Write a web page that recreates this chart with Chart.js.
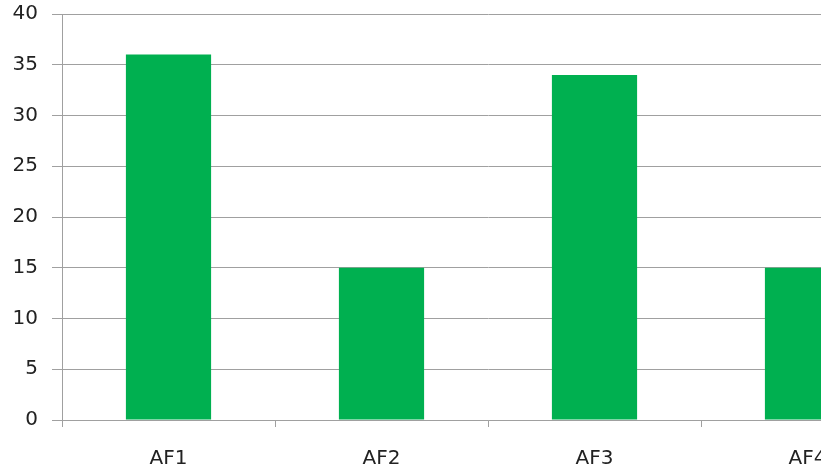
<!DOCTYPE html>
<html>
<head>
<meta charset="utf-8">
<script src="https://cdn.jsdelivr.net/npm/chart.js@4"></script>
<style>
html, body { margin: 0; padding: 0; background: #fff; overflow: hidden; }
#wrap { width: 914px; height: 480px; }
</style>
</head>
<body>
<div id="wrap"><canvas id="grafico" width="914" height="480"></canvas></div>
<script>
// dados
const categorias = ["AF1", "AF2", "AF3", "AF4"];
const valores = [36, 15, 34, 15];
const yMin = 0, yMax = 40, yPasso = 5;

const ctx = document.getElementById("grafico");

new Chart(ctx, {
  type: "bar",
  data: {
    labels: categorias,
    datasets: [{
      data: valores,
      backgroundColor: "#00b050",
      barPercentage: 0.4,
      categoryPercentage: 1
    }]
  },
  options: {
    responsive: false,
    animation: false,
    layout: { padding: { top: 14, right: 0, left: 0, bottom: 0 } },
    plugins: { legend: { display: false }, tooltip: { enabled: false } },
    scales: {
      x: {
        offset: true,
        grid: { offset: true, drawOnChartArea: false, color: "#a0a0a0", tickLength: 7 },
        border: { color: "#a0a0a0" },
        ticks: { color: "#222", font: { family: "DejaVu Sans", size: 20 }, padding: 20, maxRotation: 0 },
        afterFit: s => { s.height = 60; s.paddingLeft = 0; s.paddingRight = 0; }
      },
      y: {
        min: yMin, max: yMax,
        grid: { color: "#a0a0a0", tickLength: 10 },
        border: { color: "#a0a0a0" },
        ticks: { stepSize: yPasso, color: "#222", font: { family: "DejaVu Sans", size: 20 }, padding: 14 },
        afterFit: s => { s.width = 62; s.paddingTop = 0; s.paddingBottom = 0; }
      }
    }
  }
});
</script>
</body>
</html>
